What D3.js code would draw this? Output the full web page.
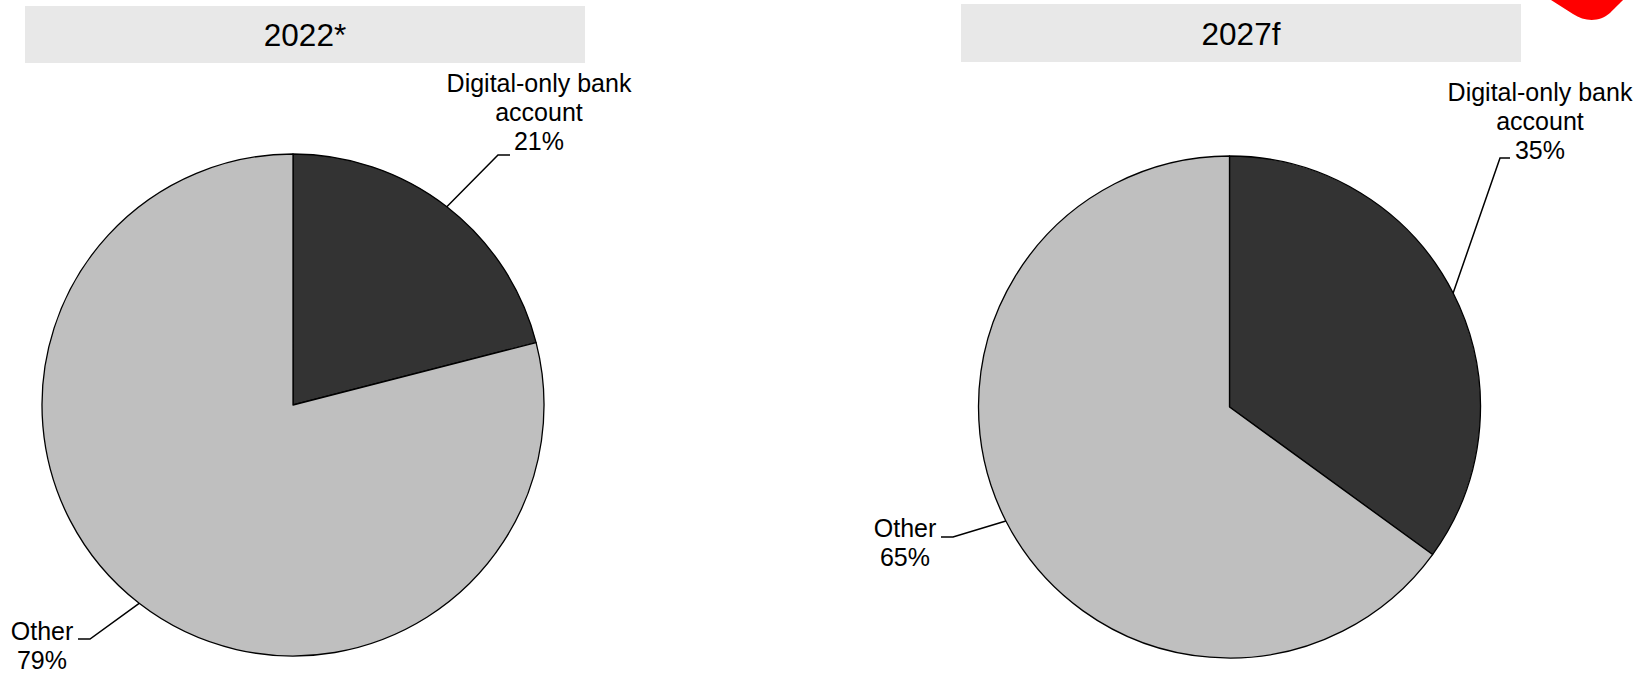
<!DOCTYPE html>
<html>
<head>
<meta charset="utf-8">
<script src="https://cdn.jsdelivr.net/npm/d3@7"></script>
<style>
  html, body { margin: 0; padding: 0; background: #ffffff; }
  svg { display: block; font-family: "Liberation Sans", Arial, sans-serif; }
</style>
</head>
<body>
<svg id="chart" width="1652" height="673"></svg>
<script>
// ---- data ----
const categories = ["Digital-only bank account", "Other"];
const labelLines = [["Digital-only bank", "account"], ["Other"]];
const years = ["2022*", "2027f"];
const share2022 = [21, 79];
const share2027 = [35, 65];
const sliceColors = ["#333333", "#bfbfbf"];

// ---- layout ----
const W = 1652, H = 673;
const svg = d3.select("#chart");
const panels = [
  { title: years[0], values: share2022, cx: 293, cy: 405, r: 251,
    box: { x: 25, y: 6, w: 560, h: 57 }, titleBase: 46,
    labels: [
      { elbow: [498, 155], end: [510, 155], tx: 539, base: 92, anchor: "middle" },
      { elbow: [90, 639], end: [78, 639], tx: 42, base: 640, anchor: "middle" }
    ] },
  { title: years[1], values: share2027, cx: 1229.5, cy: 407, r: 251,
    box: { x: 961, y: 4, w: 560, h: 58 }, titleBase: 45,
    labels: [
      { elbow: [1500, 158], end: [1510, 158], tx: 1540, base: 101, anchor: "middle" },
      { elbow: [953, 537], end: [941, 537], tx: 905, base: 537, anchor: "middle" }
    ] }
];
const lineH = 29;
const labelFont = 25;

const pie = d3.pie().sort(null).value(d => d.value).startAngle(0).endAngle(2 * Math.PI);
const color = d3.scaleOrdinal().domain(categories).range(sliceColors);

panels.forEach(p => {
  // title box
  svg.append("rect")
    .attr("x", p.box.x).attr("y", p.box.y)
    .attr("width", p.box.w).attr("height", p.box.h)
    .attr("fill", "#e8e8e8");
  svg.append("text")
    .attr("x", p.box.x + p.box.w / 2).attr("y", p.titleBase)
    .attr("text-anchor", "middle")
    .attr("font-size", 31.5)
    .attr("fill", "#000")
    .text(p.title);

  const data = categories.map((c, i) => ({ cat: c, value: p.values[i], lines: labelLines[i] }));
  const arcs = pie(data);
  const arc = d3.arc().innerRadius(0).outerRadius(p.r);
  const edgeArc = d3.arc().innerRadius(p.r).outerRadius(p.r);

  const g = svg.append("g").attr("transform", `translate(${p.cx},${p.cy})`);
  g.selectAll("path.slice").data(arcs).enter().append("path")
    .attr("class", "slice")
    .attr("d", arc)
    .attr("fill", d => color(d.data.cat))
    .attr("stroke", "#000")
    .attr("stroke-width", 1.3)
    .attr("stroke-linejoin", "round");

  arcs.forEach((a, i) => {
    const L = p.labels[i];
    const c = edgeArc.centroid(a);
    const start = [p.cx + c[0], p.cy + c[1]];
    svg.append("path")
      .attr("d", d3.line()([start, L.elbow, L.end]))
      .attr("fill", "none")
      .attr("stroke", "#000")
      .attr("stroke-width", 1.5);
    const lines = a.data.lines.concat([a.data.value + "%"]);
    const t = svg.append("text")
      .attr("text-anchor", L.anchor)
      .attr("font-size", labelFont)
      .attr("fill", "#000");
    lines.forEach((ln, k) => {
      t.append("tspan").attr("x", L.tx).attr("y", L.base + k * lineH).text(ln);
    });
  });
});

// partial red logo mark, top-right corner
svg.append("path")
  .attr("d", "M1551,0 L1573,14 C1585,22 1600,22 1610,13 C1616,7 1621,2 1623,0 Z")
  .attr("fill", "#ff0000");
</script>
</body>
</html>
